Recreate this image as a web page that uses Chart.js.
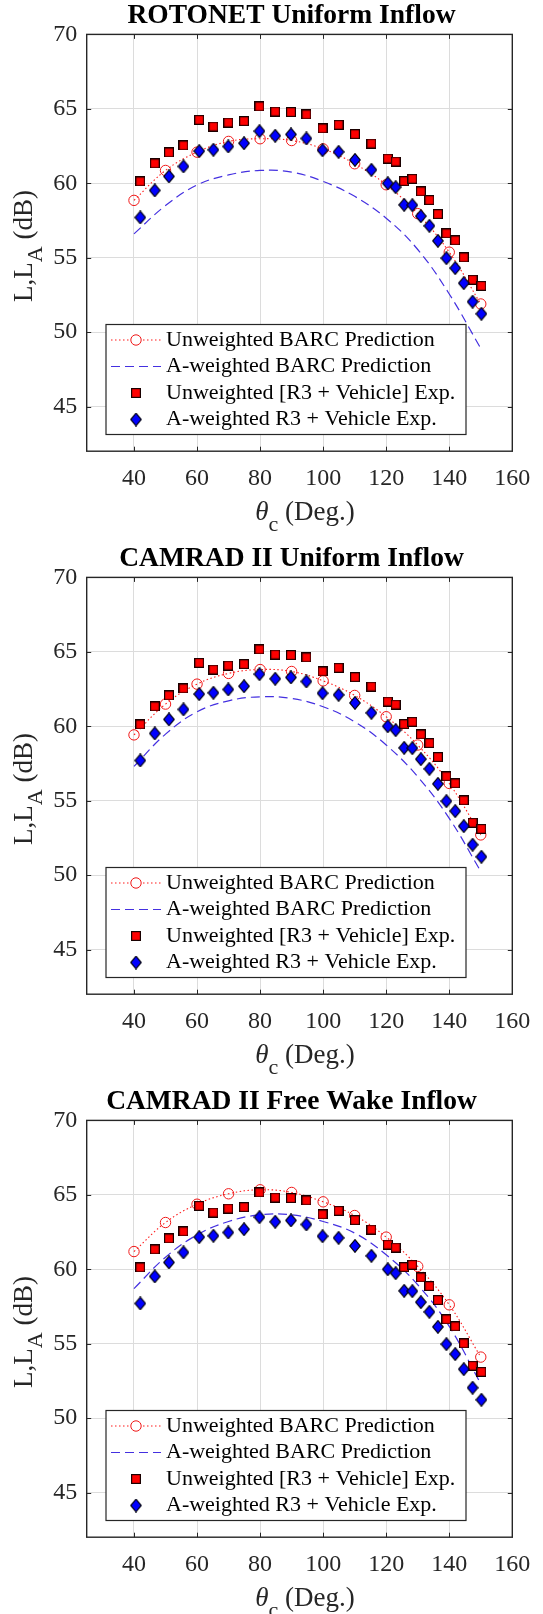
<!DOCTYPE html>
<html>
<head>
<meta charset="utf-8">
<script src="https://cdn.jsdelivr.net/npm/chart.js@4/dist/chart.umd.min.js"></script>
<style>
  html, body { margin: 0; padding: 0; background: #fff; }
  body { width: 543px; height: 1614px; overflow: hidden; }
  canvas { display: block; }
</style>
</head>
<body>
<canvas id="panel0" width="543" height="543"></canvas>
<canvas id="panel1" width="543" height="543"></canvas>
<canvas id="panel2" width="543" height="543"></canvas>
<script>
// experiment angles (deg) and levels (dB), same in every panel
const thetaExp = [42.0, 46.6, 51.1, 55.7, 60.7, 65.2, 69.9, 74.9, 79.8, 84.8, 89.8, 94.7, 99.8, 104.9,
    110.1, 115.3, 120.5, 123.0, 125.7, 128.3, 131.0, 133.7, 136.4, 139.1, 141.9, 144.6, 147.4, 150.2];
const expUnweighted = [60.12, 61.33, 62.07, 62.54, 64.26, 63.81, 64.08, 64.17, 65.16, 64.82, 64.78, 64.62, 63.68, 63.93,
    63.30, 62.67, 61.66, 61.46, 60.14, 60.30, 59.45, 58.87, 57.93, 56.63, 56.16, 55.02, 53.52, 53.11];
const expAWeighted = [57.70, 59.52, 60.46, 61.13, 62.16, 62.25, 62.47, 62.69, 63.50, 63.19, 63.28, 63.01, 62.22, 62.11,
    61.57, 60.90, 60.00, 59.74, 58.55, 58.53, 57.79, 57.14, 56.13, 54.97, 54.30, 53.29, 52.04, 51.23];

// BARC predictions
const thetaPred = [40, 50, 60, 70, 80, 90, 100, 110, 120, 130, 140, 150];
const rotonetUnweighted = [58.85, 60.86, 62.09, 62.81, 62.99, 62.87, 62.31, 61.31, 59.90, 57.96, 55.37, 51.89];
const rotonetAWeighted = [56.60, 58.50, 59.88, 60.56, 60.86, 60.75, 60.12, 59.12, 57.65, 55.55, 52.56, 48.90];
const camradUniformUnweighted = [59.42, 61.49, 62.83, 63.55, 63.81, 63.68, 63.05, 62.07, 60.64, 58.74, 56.16, 52.70];
const camradUniformAWeighted = [57.30, 59.47, 60.97, 61.71, 61.98, 61.87, 61.31, 60.30, 58.74, 56.61, 53.81, 50.25];
const camradFreeWakeUnweighted = [61.19, 63.14, 64.37, 65.07, 65.34, 65.16, 64.53, 63.61, 62.16, 60.19, 57.61, 54.10];
const camradFreeWakeAWeighted = [58.70, 60.81, 62.31, 63.21, 63.66, 63.66, 63.21, 62.43, 60.97, 58.96, 56.16, 52.30];

const xTicks = [40, 60, 80, 100, 120, 140, 160];
const yTicks = [45, 50, 55, 60, 65, 70];

const panelTitles = ['ROTONET Uniform Inflow', 'CAMRAD II Uniform Inflow', 'CAMRAD II Free Wake Inflow'];
const panelUnweighted = [rotonetUnweighted, camradUniformUnweighted, camradFreeWakeUnweighted];
const panelAWeighted = [rotonetAWeighted, camradUniformAWeighted, camradFreeWakeAWeighted];
const legendLabels = ['Unweighted BARC Prediction', 'A-weighted BARC Prediction',
    'Unweighted [R3 + Vehicle] Exp.', 'A-weighted R3 + Vehicle Exp.'];

const SERIF = "'Liberation Serif', 'Times New Roman', serif";
const AXIS = '#262626';

function zip(xs, ys) {
    return xs.map((x, i) => ({ x: x, y: ys[i] }));
}

// marker images (MATLAB style squares and tall diamonds)
function squareMarker() {
    const c = document.createElement('canvas');
    c.width = 10; c.height = 10;
    const g = c.getContext('2d');
    g.fillStyle = '#ff0000';
    g.fillRect(0, 0, 10, 10);
    g.strokeStyle = '#1a0000';
    g.lineWidth = 1.2;
    g.strokeRect(0.6, 0.6, 8.8, 8.8);
    return c;
}
function diamondMarker() {
    const c = document.createElement('canvas');
    c.width = 12; c.height = 14;
    const g = c.getContext('2d');
    g.beginPath();
    g.moveTo(6, 0.7);
    g.lineTo(11.3, 7);
    g.lineTo(6, 13.3);
    g.lineTo(0.7, 7);
    g.closePath();
    g.fillStyle = '#0000ff';
    g.fill();
    g.strokeStyle = '#000010';
    g.lineWidth = 1.2;
    g.stroke();
    return c;
}
const squareImg = squareMarker();
const diamondImg = diamondMarker();

// title, axis labels, inward ticks, box and legend
const matlabFrame = {
    id: 'matlabFrame',
    afterDraw(chart, args, opts) {
        const ctx = chart.ctx;
        const a = chart.chartArea;
        const xs = chart.scales.x, ys = chart.scales.y;
        ctx.save();

        // box + inward ticks
        ctx.strokeStyle = AXIS;
        ctx.lineWidth = 1.4;
        ctx.strokeRect(a.left, a.top, a.right - a.left, a.bottom - a.top);
        ctx.lineWidth = 1;
        ctx.beginPath();
        xTicks.forEach(v => {
            const px = Math.round(xs.getPixelForValue(v)) + 0.5;
            ctx.moveTo(px, a.bottom); ctx.lineTo(px, a.bottom - 4.5);
            ctx.moveTo(px, a.top); ctx.lineTo(px, a.top + 4.5);
        });
        yTicks.forEach(v => {
            const py = Math.round(ys.getPixelForValue(v)) + 0.5;
            ctx.moveTo(a.left, py); ctx.lineTo(a.left + 4.5, py);
            ctx.moveTo(a.right, py); ctx.lineTo(a.right - 4.5, py);
        });
        ctx.stroke();

        // title
        ctx.fillStyle = '#000';
        ctx.font = 'bold 27.5px ' + SERIF;
        ctx.textAlign = 'center';
        ctx.textBaseline = 'middle';
        ctx.fillText(opts.title, 291.5, 16);

        // x label: theta_c (Deg.)
        ctx.fillStyle = AXIS;
        ctx.textAlign = 'left';
        ctx.textBaseline = 'alphabetic';
        const big = '27px ' + SERIF, sub = '22px ' + SERIF;
        ctx.font = 'italic ' + big;
        const wTh = ctx.measureText('\u03B8').width;
        ctx.font = sub;
        const wC = ctx.measureText('c').width;
        ctx.font = big;
        const wRest = ctx.measureText(' (Deg.)').width;
        let x0 = 305 - (wTh + wC + wRest) / 2;
        const xb = 520;
        ctx.font = 'italic ' + big;
        ctx.fillText('\u03B8', x0, xb);
        ctx.font = sub;
        ctx.fillText('c', x0 + wTh, xb + 11);
        ctx.font = big;
        ctx.fillText(' (Deg.)', x0 + wTh + wC, xb);

        // y label: L,L_A (dB)
        ctx.save();
        ctx.translate(32, 246);
        ctx.rotate(-Math.PI / 2);
        ctx.font = big;
        const w1 = ctx.measureText('L,L').width;
        const w3 = ctx.measureText(' (dB)').width;
        ctx.font = sub;
        const w2 = ctx.measureText('A').width;
        let y0 = -(w1 + w2 + w3) / 2;
        ctx.font = big;
        ctx.fillText('L,L', y0, 0);
        ctx.font = sub;
        ctx.fillText('A', y0 + w1, 10);
        ctx.font = big;
        ctx.fillText(' (dB)', y0 + w1 + w2, 0);
        ctx.restore();

        // legend box, lower left inside the axes
        const lx = 106, ly = 324.5, lw = 360, lh = 110;
        ctx.fillStyle = '#fff';
        ctx.fillRect(lx, ly, lw, lh);
        ctx.strokeStyle = AXIS;
        ctx.lineWidth = 1.2;
        ctx.strokeRect(lx, ly, lw, lh);
        const rows = [340, 366.5, 393, 419.5];
        const ds = chart.data.datasets;
        rows.forEach((ry, i) => {
            const d = ds[i];
            if (d.showLine) {
                ctx.save();
                ctx.strokeStyle = d.borderColor;
                ctx.lineWidth = d.borderWidth;
                ctx.setLineDash(d.borderDash);
                ctx.beginPath();
                ctx.moveTo(111, ry); ctx.lineTo(161, ry);
                ctx.stroke();
                ctx.restore();
            }
            if (d.pointRadius > 0) {
                ctx.save();
                ctx.strokeStyle = d.pointBorderColor || '#000';
                ctx.fillStyle = d.pointBackgroundColor || '#fff';
                ctx.lineWidth = d.pointBorderWidth || 1;
                if (i === 0) {
                    ctx.fillStyle = '#fff';
                    ctx.beginPath();
                    ctx.arc(136, ry, d.pointRadius, 0, Math.PI * 2);
                    ctx.fill();
                }
                Chart.helpers.drawPoint(ctx, { pointStyle: d.pointStyle, radius: d.pointRadius, rotation: 0, borderWidth: 1 }, 136, ry);
                ctx.restore();
            }
            ctx.fillStyle = '#000';
            ctx.font = '22px ' + SERIF;
            ctx.textAlign = 'left';
            ctx.textBaseline = 'middle';
            ctx.fillText(legendLabels[i], 166, ry);
        });
        ctx.restore();
    }
};

function renderPanel(i) {
    const ctx = document.getElementById('panel' + i).getContext('2d');
    return new Chart(ctx, {
        type: 'scatter',
        data: {
            datasets: [{
                label: legendLabels[0],
                data: zip(thetaPred, panelUnweighted[i]),
                showLine: true,
                borderColor: '#ff1a1a',
                borderWidth: 1.1,
                borderDash: [1.5, 2.5],
                tension: 0.4,
                pointStyle: 'circle',
                pointRadius: 5.2,
                pointBorderColor: '#f01818',
                pointBackgroundColor: 'rgba(255,255,255,0)',
                pointBorderWidth: 1,
                order: 3
            }, {
                label: legendLabels[1],
                data: zip(thetaPred, panelAWeighted[i]),
                showLine: true,
                borderColor: '#4430e0',
                borderWidth: 1.2,
                borderDash: [9, 5],
                tension: 0.4,
                pointRadius: 0,
                order: 2
            }, {
                label: legendLabels[2],
                data: zip(thetaExp, expUnweighted),
                showLine: false,
                pointStyle: squareImg,
                pointRadius: 5,
                order: 1
            }, {
                label: legendLabels[3],
                data: zip(thetaExp, expAWeighted),
                showLine: false,
                pointStyle: diamondImg,
                pointRadius: 5,
                order: 0
            }]
        },
        options: {
            responsive: false,
            animation: false,
            devicePixelRatio: 1,
            layout: { padding: { left: 0, top: 34.4, right: 19.5, bottom: 0 } },
            plugins: {
                legend: { display: false },
                tooltip: { enabled: false },
                title: { display: false },
                matlabFrame: { title: panelTitles[i] }
            },
            scales: {
                x: {
                    type: 'linear',
                    min: 25,
                    max: 160,
                    afterBuildTicks: s => { s.ticks = xTicks.map(v => ({ value: v })); },
                    afterFit: s => { s.height = 543 - 451.2; },
                    grid: { color: '#dcdcdc', lineWidth: 1, drawTicks: false },
                    border: { display: false },
                    ticks: {
                        font: { family: SERIF, size: 24 },
                        color: AXIS,
                        padding: 12.7,
                        maxRotation: 0
                    }
                },
                y: {
                    type: 'linear',
                    min: 42,
                    max: 70,
                    afterBuildTicks: s => { s.ticks = yTicks.map(v => ({ value: v })); },
                    afterFit: s => { s.width = 86.7; },
                    grid: { color: '#dcdcdc', lineWidth: 1, drawTicks: false },
                    border: { display: false },
                    ticks: {
                        font: { family: SERIF, size: 24 },
                        color: AXIS,
                        padding: 9.4
                    }
                }
            }
        },
        plugins: [matlabFrame]
    });
}

[0, 1, 2].forEach(renderPanel);
</script>
</body>
</html>
